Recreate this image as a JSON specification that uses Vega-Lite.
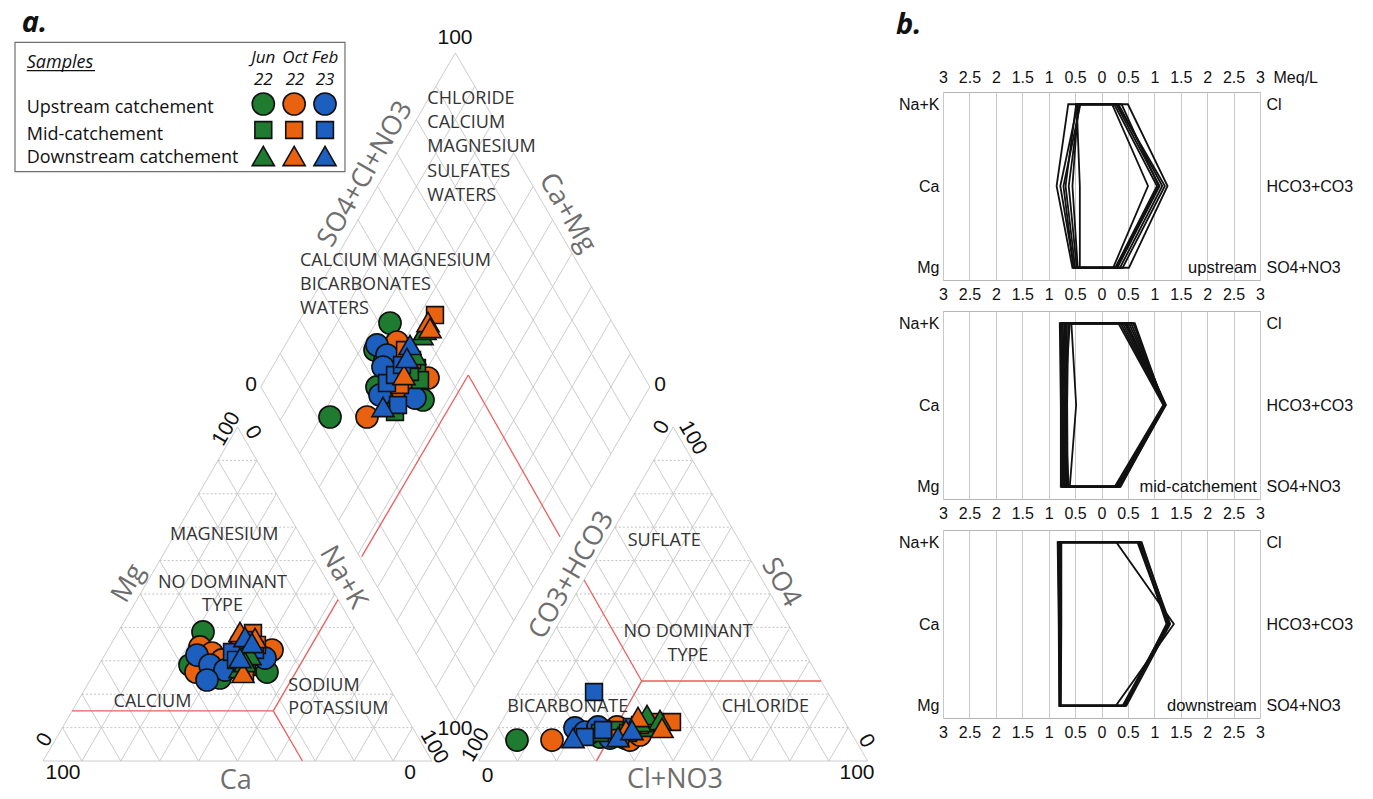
{
 "$schema": "https://vega.github.io/schema/vega-lite/v6.json",
 "padding": 0,
 "background": "white",
 "spacing": 16,
 "config": {
  "view": {"stroke": "#b5b5b5"},
  "axis": {"labelFont": "Liberation Sans", "labelFontSize": 16, "labelColor": "#111111", "ticks": false, "tickSize": 0, "domain": false, "grid": false}
 },
 "datasets": {
  "one": [{}],
  "grid": [
   {"x":0,"y":0,"x2":100,"y2":0},{"x":0,"y":0,"x2":50,"y2":86.603},{"x":100,"y":0,"x2":50,"y2":86.603},
   {"x":10,"y":0,"x2":55,"y2":77.942},{"x":20,"y":0,"x2":60,"y2":69.282},{"x":30,"y":0,"x2":65,"y2":60.622},{"x":40,"y":0,"x2":70,"y2":51.962},{"x":50,"y":0,"x2":75,"y2":43.301},{"x":60,"y":0,"x2":80,"y2":34.641},{"x":70,"y":0,"x2":85,"y2":25.981},{"x":80,"y":0,"x2":90,"y2":17.321},{"x":90,"y":0,"x2":95,"y2":8.66},
   {"x":10,"y":0,"x2":5,"y2":8.66},{"x":20,"y":0,"x2":10,"y2":17.321},{"x":30,"y":0,"x2":15,"y2":25.981},{"x":40,"y":0,"x2":20,"y2":34.641},{"x":50,"y":0,"x2":25,"y2":43.301},{"x":60,"y":0,"x2":30,"y2":51.962},{"x":70,"y":0,"x2":35,"y2":60.622},{"x":80,"y":0,"x2":40,"y2":69.282},{"x":90,"y":0,"x2":45,"y2":77.942},
   {"x":112,"y":0,"x2":212,"y2":0},{"x":112,"y":0,"x2":162,"y2":86.603},{"x":212,"y":0,"x2":162,"y2":86.603},
   {"x":122,"y":0,"x2":167,"y2":77.942},{"x":132,"y":0,"x2":172,"y2":69.282},{"x":142,"y":0,"x2":177,"y2":60.622},{"x":152,"y":0,"x2":182,"y2":51.962},{"x":162,"y":0,"x2":187,"y2":43.301},{"x":172,"y":0,"x2":192,"y2":34.641},{"x":182,"y":0,"x2":197,"y2":25.981},{"x":192,"y":0,"x2":202,"y2":17.321},{"x":202,"y":0,"x2":207,"y2":8.66},
   {"x":122,"y":0,"x2":117,"y2":8.66},{"x":132,"y":0,"x2":122,"y2":17.321},{"x":142,"y":0,"x2":127,"y2":25.981},{"x":152,"y":0,"x2":132,"y2":34.641},{"x":162,"y":0,"x2":137,"y2":43.301},{"x":172,"y":0,"x2":142,"y2":51.962},{"x":182,"y":0,"x2":147,"y2":60.622},{"x":192,"y":0,"x2":152,"y2":69.282},{"x":202,"y":0,"x2":157,"y2":77.942},
   {"x":106,"y":10.392,"x2":56,"y2":96.995},{"x":106,"y":10.392,"x2":156,"y2":96.995},{"x":56,"y":96.995,"x2":106,"y2":183.597},{"x":156,"y":96.995,"x2":106,"y2":183.597},
   {"x":101,"y":19.053,"x2":151,"y2":105.655},{"x":96,"y":27.713,"x2":146,"y2":114.316},{"x":91,"y":36.373,"x2":141,"y2":122.976},{"x":86,"y":45.033,"x2":136,"y2":131.636},{"x":81,"y":53.694,"x2":131,"y2":140.296},{"x":76,"y":62.354,"x2":126,"y2":148.957},{"x":71,"y":71.014,"x2":121,"y2":157.617},{"x":66,"y":79.674,"x2":116,"y2":166.277},{"x":61,"y":88.335,"x2":111,"y2":174.937},
   {"x":111,"y":19.053,"x2":61,"y2":105.655},{"x":116,"y":27.713,"x2":66,"y2":114.316},{"x":121,"y":36.373,"x2":71,"y2":122.976},{"x":126,"y":45.033,"x2":76,"y2":131.636},{"x":131,"y":53.694,"x2":81,"y2":140.296},{"x":136,"y":62.354,"x2":86,"y2":148.957},{"x":141,"y":71.014,"x2":91,"y2":157.617},{"x":146,"y":79.674,"x2":96,"y2":166.277},{"x":151,"y":88.335,"x2":101,"y2":174.937}
  ],
  "gridDotted": [
   {"x":5,"y":8.66,"x2":95,"y2":8.66},{"x":10,"y":17.321,"x2":90,"y2":17.321},{"x":15,"y":25.981,"x2":85,"y2":25.981},{"x":20,"y":34.641,"x2":80,"y2":34.641},{"x":25,"y":43.301,"x2":75,"y2":43.301},{"x":30,"y":51.962,"x2":70,"y2":51.962},{"x":35,"y":60.622,"x2":65,"y2":60.622},{"x":40,"y":69.282,"x2":60,"y2":69.282},{"x":45,"y":77.942,"x2":55,"y2":77.942},
   {"x":117,"y":8.66,"x2":207,"y2":8.66},{"x":122,"y":17.321,"x2":202,"y2":17.321},{"x":127,"y":25.981,"x2":197,"y2":25.981},{"x":132,"y":34.641,"x2":192,"y2":34.641},{"x":137,"y":43.301,"x2":187,"y2":43.301},{"x":142,"y":51.962,"x2":182,"y2":51.962},{"x":147,"y":60.622,"x2":177,"y2":60.622},{"x":152,"y":69.282,"x2":172,"y2":69.282},{"x":157,"y":77.942,"x2":167,"y2":77.942}
  ],
  "facies": [
   {"x":7.48,"y":12.99,"x2":59.2,"y2":12.99},{"x":59.2,"y":12.99,"x2":66.7,"y2":0},{"x":59.2,"y":12.99,"x2":75.85,"y2":41.83},
   {"x":142.3,"y":0,"x2":153.9,"y2":20.74},{"x":153.9,"y":20.74,"x2":200.0,"y2":20.74},{"x":153.9,"y":20.74,"x2":139.1,"y2":46.93},
   {"x":81.93,"y":52.97,"x2":109.33,"y2":100.08},{"x":109.33,"y":100.08,"x2":132.9,"y2":58.15}
  ],
  "samples": [
   {"group":"Upstream catchement","season":"Jun 22","cat_x":41.13,"cat_y":33.45,"an_x":121.85,"an_y":5.44,"dia_x":73.78,"dia_y":89.19},
   {"group":"Upstream catchement","season":"Jun 22","cat_x":37.79,"cat_y":24.89,"an_x":143.19,"an_y":6.22,"dia_x":89.20,"dia_y":113.56},
   {"group":"Upstream catchement","season":"Jun 22","cat_x":45.50,"cat_y":21.52,"an_x":146.27,"an_y":6.74,"dia_x":85.35,"dia_y":106.56},
   {"group":"Upstream catchement","season":"Jun 22","cat_x":57.58,"cat_y":23.07,"an_x":149.61,"an_y":5.96,"dia_x":85.86,"dia_y":96.97},
   {"group":"Upstream catchement","season":"Jun 22","cat_x":40.36,"cat_y":26.19,"an_x":140.62,"an_y":7.26,"dia_x":97.69,"dia_y":93.60},
   {"group":"Upstream catchement","season":"Oct 22","cat_x":40.36,"cat_y":29.56,"an_x":130.85,"an_y":5.44,"dia_x":83.29,"dia_y":89.19},
   {"group":"Upstream catchement","season":"Oct 22","cat_x":43.44,"cat_y":28.00,"an_x":147.56,"an_y":8.82,"dia_x":91.00,"dia_y":108.63},
   {"group":"Upstream catchement","season":"Oct 22","cat_x":58.87,"cat_y":28.78,"an_x":150.90,"an_y":5.44,"dia_x":98.97,"dia_y":99.30},
   {"group":"Upstream catchement","season":"Oct 22","cat_x":46.02,"cat_y":26.19,"an_x":144.47,"an_y":7.78,"dia_x":92.29,"dia_y":96.19},
   {"group":"Upstream catchement","season":"Oct 22","cat_x":39.33,"cat_y":23.07,"an_x":153.47,"an_y":6.74,"dia_x":87.92,"dia_y":103.97},
   {"group":"Upstream catchement","season":"Feb 23","cat_x":39.59,"cat_y":27.48,"an_x":136.76,"an_y":8.56,"dia_x":85.86,"dia_y":107.86},
   {"group":"Upstream catchement","season":"Feb 23","cat_x":42.93,"cat_y":24.89,"an_x":139.33,"an_y":7.52,"dia_x":88.43,"dia_y":105.26},
   {"group":"Upstream catchement","season":"Feb 23","cat_x":46.79,"cat_y":23.59,"an_x":142.67,"an_y":8.82,"dia_x":87.40,"dia_y":102.15},
   {"group":"Upstream catchement","season":"Feb 23","cat_x":42.16,"cat_y":21.00,"an_x":148.84,"an_y":7.26,"dia_x":95.63,"dia_y":94.11},
   {"group":"Upstream catchement","season":"Feb 23","cat_x":57.07,"cat_y":26.70,"an_x":145.76,"an_y":5.96,"dia_x":86.63,"dia_y":94.89},
   {"group":"Mid-catchement","season":"Jun 22","cat_x":51.16,"cat_y":25.67,"an_x":147.04,"an_y":8.04,"dia_x":90.49,"dia_y":90.49},
   {"group":"Mid-catchement","season":"Jun 22","cat_x":50.13,"cat_y":28.78,"an_x":154.76,"an_y":8.56,"dia_x":96.14,"dia_y":101.89},
   {"group":"Mid-catchement","season":"Jun 22","cat_x":53.21,"cat_y":31.37,"an_x":150.39,"an_y":7.26,"dia_x":96.92,"dia_y":98.78},
   {"group":"Mid-catchement","season":"Jun 22","cat_x":52.44,"cat_y":24.37,"an_x":143.19,"an_y":7.26,"dia_x":94.34,"dia_y":100.86},
   {"group":"Mid-catchement","season":"Oct 22","cat_x":53.98,"cat_y":33.19,"an_x":157.33,"an_y":10.11,"dia_x":100.77,"dia_y":115.63},
   {"group":"Mid-catchement","season":"Oct 22","cat_x":50.64,"cat_y":30.08,"an_x":161.70,"an_y":10.11,"dia_x":91.77,"dia_y":97.49},
   {"group":"Mid-catchement","season":"Oct 22","cat_x":55.01,"cat_y":30.08,"an_x":153.47,"an_y":9.33,"dia_x":94.86,"dia_y":103.97},
   {"group":"Mid-catchement","season":"Oct 22","cat_x":51.93,"cat_y":23.07,"an_x":148.33,"an_y":5.96,"dia_x":93.06,"dia_y":106.56},
   {"group":"Mid-catchement","season":"Feb 23","cat_x":48.59,"cat_y":28.26,"an_x":141.65,"an_y":17.89,"dia_x":88.43,"dia_y":98.00},
   {"group":"Mid-catchement","season":"Feb 23","cat_x":52.70,"cat_y":31.37,"an_x":139.33,"an_y":6.22,"dia_x":90.49,"dia_y":100.08},
   {"group":"Mid-catchement","season":"Feb 23","cat_x":54.50,"cat_y":28.78,"an_x":143.96,"an_y":8.04,"dia_x":92.29,"dia_y":102.67},
   {"group":"Mid-catchement","season":"Feb 23","cat_x":49.61,"cat_y":26.19,"an_x":151.41,"an_y":8.82,"dia_x":91.26,"dia_y":92.30},
   {"group":"Downstream catchement","season":"Jun 22","cat_x":50.64,"cat_y":24.11,"an_x":155.27,"an_y":11.93,"dia_x":97.43,"dia_y":110.45},
   {"group":"Downstream catchement","season":"Jun 22","cat_x":53.21,"cat_y":27.48,"an_x":158.61,"an_y":10.63,"dia_x":95.63,"dia_y":105.26},
   {"group":"Downstream catchement","season":"Jun 22","cat_x":51.93,"cat_y":25.67,"an_x":153.47,"an_y":10.11,"dia_x":98.20,"dia_y":111.75},
   {"group":"Downstream catchement","season":"Oct 22","cat_x":50.64,"cat_y":33.45,"an_x":152.96,"an_y":11.41,"dia_x":98.97,"dia_y":113.82},
   {"group":"Downstream catchement","season":"Oct 22","cat_x":54.50,"cat_y":31.89,"an_x":159.13,"an_y":8.56,"dia_x":99.49,"dia_y":112.26},
   {"group":"Downstream catchement","season":"Oct 22","cat_x":51.41,"cat_y":22.82,"an_x":149.87,"an_y":8.04,"dia_x":92.80,"dia_y":100.08},
   {"group":"Downstream catchement","season":"Feb 23","cat_x":51.93,"cat_y":32.15,"an_x":136.25,"an_y":5.96,"dia_x":94.34,"dia_y":107.86},
   {"group":"Downstream catchement","season":"Feb 23","cat_x":53.73,"cat_y":30.59,"an_x":147.81,"an_y":6.22,"dia_x":93.57,"dia_y":104.49},
   {"group":"Downstream catchement","season":"Feb 23","cat_x":50.64,"cat_y":26.70,"an_x":151.41,"an_y":8.04,"dia_x":87.40,"dia_y":91.78}
  ],
  "legendKeys": [
   {"group":"Upstream catchement","season":"Jun 22"},{"group":"Upstream catchement","season":"Oct 22"},{"group":"Upstream catchement","season":"Feb 23"},
   {"group":"Mid-catchement","season":"Jun 22"},{"group":"Mid-catchement","season":"Oct 22"},{"group":"Mid-catchement","season":"Feb 23"},
   {"group":"Downstream catchement","season":"Jun 22"},{"group":"Downstream catchement","season":"Oct 22"},{"group":"Downstream catchement","season":"Feb 23"}
  ],
  "stiff": [
   {"panel":"upstream","sample":"U1","Na+K":-0.63,"Ca":-0.85,"Mg":-0.55,"SO4+NO3":0.52,"HCO3+CO3":1.25,"Cl":0.50},
   {"panel":"upstream","sample":"U2","Na+K":-0.45,"Ca":-0.78,"Mg":-0.52,"SO4+NO3":0.30,"HCO3+CO3":1.10,"Cl":0.28},
   {"panel":"upstream","sample":"U3","Na+K":-0.48,"Ca":-0.68,"Mg":-0.50,"SO4+NO3":0.26,"HCO3+CO3":1.05,"Cl":0.24},
   {"panel":"upstream","sample":"U4","Na+K":-0.42,"Ca":-0.62,"Mg":-0.47,"SO4+NO3":0.22,"HCO3+CO3":0.88,"Cl":0.20},
   {"panel":"upstream","sample":"U5","Na+K":-0.44,"Ca":-0.55,"Mg":-0.45,"SO4+NO3":0.35,"HCO3+CO3":1.15,"Cl":0.32},
   {"panel":"upstream","sample":"U6","Na+K":-0.47,"Ca":-0.41,"Mg":-0.41,"SO4+NO3":0.28,"HCO3+CO3":1.08,"Cl":0.38},
   {"panel":"upstream","sample":"U7","Na+K":-0.40,"Ca":-0.72,"Mg":-0.53,"SO4+NO3":0.40,"HCO3+CO3":1.20,"Cl":0.30},
   {"panel":"mid","sample":"M1","Na+K":-0.79,"Ca":-0.77,"Mg":-0.77,"SO4+NO3":0.25,"HCO3+CO3":1.17,"Cl":0.32},
   {"panel":"mid","sample":"M2","Na+K":-0.77,"Ca":-0.75,"Mg":-0.75,"SO4+NO3":0.27,"HCO3+CO3":1.18,"Cl":0.36},
   {"panel":"mid","sample":"M3","Na+K":-0.75,"Ca":-0.73,"Mg":-0.73,"SO4+NO3":0.29,"HCO3+CO3":1.19,"Cl":0.40},
   {"panel":"mid","sample":"M4","Na+K":-0.73,"Ca":-0.71,"Mg":-0.72,"SO4+NO3":0.31,"HCO3+CO3":1.20,"Cl":0.44},
   {"panel":"mid","sample":"M5","Na+K":-0.70,"Ca":-0.69,"Mg":-0.70,"SO4+NO3":0.33,"HCO3+CO3":1.21,"Cl":0.48},
   {"panel":"mid","sample":"M6","Na+K":-0.68,"Ca":-0.67,"Mg":-0.68,"SO4+NO3":0.35,"HCO3+CO3":1.22,"Cl":0.52},
   {"panel":"mid","sample":"M7","Na+K":-0.66,"Ca":-0.66,"Mg":-0.66,"SO4+NO3":0.36,"HCO3+CO3":1.20,"Cl":0.56},
   {"panel":"mid","sample":"M8","Na+K":-0.63,"Ca":-0.65,"Mg":-0.64,"SO4+NO3":0.30,"HCO3+CO3":1.19,"Cl":0.60},
   {"panel":"mid","sample":"M9","Na+K":-0.60,"Ca":-0.70,"Mg":-0.62,"SO4+NO3":0.28,"HCO3+CO3":1.18,"Cl":0.63},
   {"panel":"mid","sample":"M10","Na+K":-0.57,"Ca":-0.48,"Mg":-0.60,"SO4+NO3":0.32,"HCO3+CO3":1.21,"Cl":0.45},
   {"panel":"downstream","sample":"D1","Na+K":-0.83,"Ca":-0.81,"Mg":-0.80,"SO4+NO3":0.27,"HCO3+CO3":1.37,"Cl":0.28},
   {"panel":"downstream","sample":"D2","Na+K":-0.82,"Ca":-0.80,"Mg":-0.79,"SO4+NO3":0.40,"HCO3+CO3":1.25,"Cl":0.68},
   {"panel":"downstream","sample":"D3","Na+K":-0.80,"Ca":-0.79,"Mg":-0.79,"SO4+NO3":0.43,"HCO3+CO3":1.27,"Cl":0.70},
   {"panel":"downstream","sample":"D4","Na+K":-0.79,"Ca":-0.78,"Mg":-0.78,"SO4+NO3":0.45,"HCO3+CO3":1.23,"Cl":0.72},
   {"panel":"downstream","sample":"D5","Na+K":-0.78,"Ca":-0.77,"Mg":-0.78,"SO4+NO3":0.47,"HCO3+CO3":1.30,"Cl":0.74},
   {"panel":"downstream","sample":"D6","Na+K":-0.76,"Ca":-0.76,"Mg":-0.77,"SO4+NO3":0.42,"HCO3+CO3":1.28,"Cl":0.76}
  ],
  "ions": [
   {"ion":"Na+K","level":"top","seq":1},{"ion":"Ca","level":"mid","seq":2},{"ion":"Mg","level":"bottom","seq":3},
   {"ion":"SO4+NO3","level":"bottom","seq":4},{"ion":"HCO3+CO3","level":"mid","seq":5},{"ion":"Cl","level":"top","seq":6}
  ]
 },
 "hconcat": [
  {
   "width": 880,
   "height": 799,
   "view": {"stroke": null},
   "layer": [
    {
     "layer": [
      {"data": {"name": "grid"}, "mark": {"type": "rule", "color": "#c6c6c6", "strokeWidth": 0.9},
       "encoding": {"x": {"field": "x", "type": "quantitative", "scale": {"domain": [-11.054, 215.167], "nice": false, "zero": false}, "axis": null}, "y": {"field": "y", "type": "quantitative", "scale": {"domain": [-9.852, 197.304], "nice": false, "zero": false}, "axis": null}, "x2": {"field": "x2"}, "y2": {"field": "y2"}}},
      {"data": {"name": "gridDotted"}, "mark": {"type": "rule", "color": "#bcbcbc", "strokeWidth": 0.9, "strokeDash": [2, 2]},
       "encoding": {"x": {"field": "x", "type": "quantitative", "axis": null}, "y": {"field": "y", "type": "quantitative", "axis": null}, "x2": {"field": "x2"}, "y2": {"field": "y2"}}},
      {"data": {"name": "facies"}, "mark": {"type": "rule", "color": "#ef5b5b", "strokeWidth": 1.3},
       "encoding": {"x": {"field": "x", "type": "quantitative", "axis": null}, "y": {"field": "y", "type": "quantitative", "axis": null}, "x2": {"field": "x2"}, "y2": {"field": "y2"}}},

      {"data": {"name": "one"}, "mark": {"type": "rect", "fill": "white", "stroke": "#6e6e6e", "strokeWidth": 1.2}, "encoding": {"x": {"datum": -7.2, "type": "quantitative", "axis": null}, "x2": {"datum": 77.63}, "y": {"datum": 186.34, "type": "quantitative", "axis": null}, "y2": {"datum": 152.79}}},
      {"data": {"name": "one"}, "mark": {"type": "text", "text": "a.", "font": "Open Sans", "fontSize": 29, "fontWeight": "bold", "fontStyle": "italic", "align": "left", "baseline": "alphabetic", "color": "#111111"}, "encoding": {"x": {"datum": -5.48, "type": "quantitative", "axis": null}, "y": {"datum": 189.09, "type": "quantitative", "axis": null}}},
      {"data": {"name": "one"}, "mark": {"type": "text", "text": "Samples", "font": "Open Sans", "fontSize": 18, "fontStyle": "italic", "align": "left", "baseline": "alphabetic", "color": "#111111"}, "encoding": {"x": {"datum": -4.19, "type": "quantitative", "axis": null}, "y": {"datum": 179.6, "type": "quantitative", "axis": null}}},
      {"data": {"name": "one"}, "mark": {"type": "rule", "color": "#111111", "strokeWidth": 1.2}, "encoding": {"x": {"datum": -4.19, "type": "quantitative", "axis": null}, "x2": {"datum": 13.37}, "y": {"datum": 179.0, "type": "quantitative", "axis": null}}},
      {"data": {"name": "one"}, "mark": {"type": "text", "text": ["Jun", "22"], "lineHeight": 21.7, "font": "Open Sans", "fontSize": 17, "fontStyle": "italic", "align": "center", "baseline": "alphabetic", "color": "#111111"}, "encoding": {"x": {"datum": 56.63, "type": "quantitative", "axis": null}, "y": {"datum": 180.9, "type": "quantitative", "axis": null}}},
      {"data": {"name": "one"}, "mark": {"type": "text", "text": ["Oct", "22"], "lineHeight": 21.7, "font": "Open Sans", "fontSize": 17, "fontStyle": "italic", "align": "center", "baseline": "alphabetic", "color": "#111111"}, "encoding": {"x": {"datum": 64.78, "type": "quantitative", "axis": null}, "y": {"datum": 180.9, "type": "quantitative", "axis": null}}},
      {"data": {"name": "one"}, "mark": {"type": "text", "text": ["Feb", "23"], "lineHeight": 21.7, "font": "Open Sans", "fontSize": 17, "fontStyle": "italic", "align": "center", "baseline": "alphabetic", "color": "#111111"}, "encoding": {"x": {"datum": 72.49, "type": "quantitative", "axis": null}, "y": {"datum": 180.9, "type": "quantitative", "axis": null}}},
      {"data": {"name": "one"}, "mark": {"type": "text", "text": "Upstream catchement", "font": "Open Sans", "fontSize": 18, "align": "left", "baseline": "alphabetic", "color": "#111111"}, "encoding": {"x": {"datum": -4.19, "type": "quantitative", "axis": null}, "y": {"datum": 167.93, "type": "quantitative", "axis": null}}},
      {"data": {"name": "one"}, "mark": {"type": "text", "text": "Mid-catchement", "font": "Open Sans", "fontSize": 18, "align": "left", "baseline": "alphabetic", "color": "#111111"}, "encoding": {"x": {"datum": -4.19, "type": "quantitative", "axis": null}, "y": {"datum": 161.01, "type": "quantitative", "axis": null}}},
      {"data": {"name": "one"}, "mark": {"type": "text", "text": "Downstream catchement", "font": "Open Sans", "fontSize": 18, "align": "left", "baseline": "alphabetic", "color": "#111111"}, "encoding": {"x": {"datum": -4.19, "type": "quantitative", "axis": null}, "y": {"datum": 155.12, "type": "quantitative", "axis": null}}},

      {"data": {"name": "one"}, "mark": {"type": "text", "text": "100", "font": "Liberation Sans", "fontSize": 21, "color": "#111111", "align": "center", "baseline": "middle"}, "encoding": {"x": {"datum": 105.91, "type": "quantitative", "axis": null}, "y": {"datum": 187.45, "type": "quantitative", "axis": null}}},
      {"data": {"name": "one"}, "mark": {"type": "text", "text": "0", "font": "Liberation Sans", "fontSize": 21, "color": "#111111", "align": "center", "baseline": "middle"}, "encoding": {"x": {"datum": 53.47, "type": "quantitative", "axis": null}, "y": {"datum": 97.49, "type": "quantitative", "axis": null}}},
      {"data": {"name": "one"}, "mark": {"type": "text", "text": "0", "font": "Liberation Sans", "fontSize": 21, "color": "#111111", "align": "center", "baseline": "middle"}, "encoding": {"x": {"datum": 158.61, "type": "quantitative", "axis": null}, "y": {"datum": 97.49, "type": "quantitative", "axis": null}}},
      {"data": {"name": "one"}, "mark": {"type": "text", "text": "100", "font": "Liberation Sans", "fontSize": 21, "color": "#111111", "align": "center", "baseline": "middle"}, "encoding": {"x": {"datum": 5.14, "type": "quantitative", "axis": null}, "y": {"datum": -3.11, "type": "quantitative", "axis": null}}},
      {"data": {"name": "one"}, "mark": {"type": "text", "text": "0", "font": "Liberation Sans", "fontSize": 21, "color": "#111111", "align": "center", "baseline": "middle"}, "encoding": {"x": {"datum": 94.34, "type": "quantitative", "axis": null}, "y": {"datum": -3.11, "type": "quantitative", "axis": null}}},
      {"data": {"name": "one"}, "mark": {"type": "text", "text": "0", "font": "Liberation Sans", "fontSize": 21, "color": "#111111", "align": "center", "baseline": "middle"}, "encoding": {"x": {"datum": 114.27, "type": "quantitative", "axis": null}, "y": {"datum": -3.89, "type": "quantitative", "axis": null}}},
      {"data": {"name": "one"}, "mark": {"type": "text", "text": "100", "font": "Liberation Sans", "fontSize": 21, "color": "#111111", "align": "center", "baseline": "middle"}, "encoding": {"x": {"datum": 209.25, "type": "quantitative", "axis": null}, "y": {"datum": -3.11, "type": "quantitative", "axis": null}}},
      {"data": {"name": "one"}, "mark": {"type": "text", "text": "100", "font": "Liberation Sans", "fontSize": 21, "color": "#111111", "align": "center", "baseline": "middle"}, "encoding": {"x": {"datum": 105.91, "type": "quantitative", "axis": null}, "y": {"datum": 8.3, "type": "quantitative", "axis": null}}},
      {"data": {"name": "one"}, "mark": {"type": "text", "text": "100", "font": "Liberation Sans", "fontSize": 21, "color": "#111111", "align": "center", "baseline": "middle", "angle": -60}, "encoding": {"x": {"datum": 47.22, "type": "quantitative", "axis": null}, "y": {"datum": 86.08, "type": "quantitative", "axis": null}}},
      {"data": {"name": "one"}, "mark": {"type": "text", "text": "0", "font": "Liberation Sans", "fontSize": 21, "color": "#111111", "align": "center", "baseline": "middle", "angle": -60}, "encoding": {"x": {"datum": 0.51, "type": "quantitative", "axis": null}, "y": {"datum": 5.44, "type": "quantitative", "axis": null}}},
      {"data": {"name": "one"}, "mark": {"type": "text", "text": "0", "font": "Liberation Sans", "fontSize": 21, "color": "#111111", "align": "center", "baseline": "middle", "angle": -60}, "encoding": {"x": {"datum": 159.12, "type": "quantitative", "axis": null}, "y": {"datum": 86.47, "type": "quantitative", "axis": null}}},
      {"data": {"name": "one"}, "mark": {"type": "text", "text": "100", "font": "Liberation Sans", "fontSize": 21, "color": "#111111", "align": "center", "baseline": "middle", "angle": -60}, "encoding": {"x": {"datum": 111.31, "type": "quantitative", "axis": null}, "y": {"datum": 4.15, "type": "quantitative", "axis": null}}},
      {"data": {"name": "one"}, "mark": {"type": "text", "text": "0", "font": "Liberation Sans", "fontSize": 21, "color": "#111111", "align": "center", "baseline": "middle", "angle": 60}, "encoding": {"x": {"datum": 53.86, "type": "quantitative", "axis": null}, "y": {"datum": 85.17, "type": "quantitative", "axis": null}}},
      {"data": {"name": "one"}, "mark": {"type": "text", "text": "100", "font": "Liberation Sans", "fontSize": 21, "color": "#111111", "align": "center", "baseline": "middle", "angle": 60}, "encoding": {"x": {"datum": 100.51, "type": "quantitative", "axis": null}, "y": {"datum": 3.63, "type": "quantitative", "axis": null}}},
      {"data": {"name": "one"}, "mark": {"type": "text", "text": "100", "font": "Liberation Sans", "fontSize": 21, "color": "#111111", "align": "center", "baseline": "middle", "angle": 60}, "encoding": {"x": {"datum": 166.97, "type": "quantitative", "axis": null}, "y": {"datum": 83.74, "type": "quantitative", "axis": null}}},
      {"data": {"name": "one"}, "mark": {"type": "text", "text": "0", "font": "Liberation Sans", "fontSize": 21, "color": "#111111", "align": "center", "baseline": "middle", "angle": 60}, "encoding": {"x": {"datum": 211.57, "type": "quantitative", "axis": null}, "y": {"datum": 5.19, "type": "quantitative", "axis": null}}},

      {"data": {"name": "one"}, "mark": {"type": "text", "text": "Ca", "font": "Open Sans", "fontSize": 27, "color": "#6e6e6e", "align": "center", "baseline": "middle"}, "encoding": {"x": {"datum": 49.56, "type": "quantitative", "axis": null}, "y": {"datum": -5.19, "type": "quantitative", "axis": null}}},
      {"data": {"name": "one"}, "mark": {"type": "text", "text": "Cl+NO3", "font": "Open Sans", "fontSize": 27, "color": "#6e6e6e", "align": "center", "baseline": "middle"}, "encoding": {"x": {"datum": 162.47, "type": "quantitative", "axis": null}, "y": {"datum": -4.93, "type": "quantitative", "axis": null}}},
      {"data": {"name": "one"}, "mark": {"type": "text", "text": "Mg", "font": "Open Sans", "fontSize": 27, "color": "#6e6e6e", "align": "center", "baseline": "middle", "angle": -60}, "encoding": {"x": {"datum": 21.98, "type": "quantitative", "axis": null}, "y": {"datum": 46.02, "type": "quantitative", "axis": null}}},
      {"data": {"name": "one"}, "mark": {"type": "text", "text": "SO4+Cl+NO3", "font": "Open Sans", "fontSize": 27, "color": "#6e6e6e", "align": "center", "baseline": "middle", "angle": -60}, "encoding": {"x": {"datum": 82.9, "type": "quantitative", "axis": null}, "y": {"datum": 152.2, "type": "quantitative", "axis": null}}},
      {"data": {"name": "one"}, "mark": {"type": "text", "text": "CO3+HCO3", "font": "Open Sans", "fontSize": 27, "color": "#6e6e6e", "align": "center", "baseline": "middle", "angle": -60}, "encoding": {"x": {"datum": 135.9, "type": "quantitative", "axis": null}, "y": {"datum": 48.2, "type": "quantitative", "axis": null}}},
      {"data": {"name": "one"}, "mark": {"type": "text", "text": "Na+K", "font": "Open Sans", "fontSize": 27, "color": "#6e6e6e", "align": "center", "baseline": "middle", "angle": 60}, "encoding": {"x": {"datum": 77.12, "type": "quantitative", "axis": null}, "y": {"datum": 47.58, "type": "quantitative", "axis": null}}},
      {"data": {"name": "one"}, "mark": {"type": "text", "text": "Ca+Mg", "font": "Open Sans", "fontSize": 27, "color": "#6e6e6e", "align": "center", "baseline": "middle", "angle": 60}, "encoding": {"x": {"datum": 134.8, "type": "quantitative", "axis": null}, "y": {"datum": 142.1, "type": "quantitative", "axis": null}}},
      {"data": {"name": "one"}, "mark": {"type": "text", "text": "SO4", "font": "Open Sans", "fontSize": 27, "color": "#6e6e6e", "align": "center", "baseline": "middle", "angle": 60}, "encoding": {"x": {"datum": 189.7, "type": "quantitative", "axis": null}, "y": {"datum": 46.3, "type": "quantitative", "axis": null}}},

      {"data": {"name": "one"}, "mark": {"type": "text", "text": ["CHLORIDE", "CALCIUM", "MAGNESIUM", "SULFATES", "WATERS"], "lineHeight": 24.25, "font": "Open Sans", "fontSize": 18, "color": "#333333", "align": "left", "baseline": "middle"}, "encoding": {"x": {"datum": 98.8, "type": "quantitative", "axis": null}, "y": {"datum": 171.64, "type": "quantitative", "axis": null}}},
      {"data": {"name": "one"}, "mark": {"type": "text", "text": ["CALCIUM MAGNESIUM", "BICARBONATES", "WATERS"], "lineHeight": 24.3, "font": "Open Sans", "fontSize": 18, "color": "#333333", "align": "left", "baseline": "middle"}, "encoding": {"x": {"datum": 66.07, "type": "quantitative", "axis": null}, "y": {"datum": 129.71, "type": "quantitative", "axis": null}}},
      {"data": {"name": "one"}, "mark": {"type": "text", "text": ["SODIUM", "POTASSIUM"], "lineHeight": 23.4, "font": "Open Sans", "fontSize": 18, "color": "#333333", "align": "left", "baseline": "middle"}, "encoding": {"x": {"datum": 63.06, "type": "quantitative", "axis": null}, "y": {"datum": 19.5, "type": "quantitative", "axis": null}}},
      {"data": {"name": "one"}, "mark": {"type": "text", "text": "MAGNESIUM", "font": "Open Sans", "fontSize": 18, "color": "#333333", "align": "center", "baseline": "middle"}, "encoding": {"x": {"datum": 46.58, "type": "quantitative", "axis": null}, "y": {"datum": 58.47, "type": "quantitative", "axis": null}}},
      {"data": {"name": "one"}, "mark": {"type": "text", "text": ["NO DOMINANT", "TYPE"], "lineHeight": 23.3, "font": "Open Sans", "fontSize": 18, "color": "#333333", "align": "center", "baseline": "middle"}, "encoding": {"x": {"datum": 46.14, "type": "quantitative", "axis": null}, "y": {"datum": 46.23, "type": "quantitative", "axis": null}}},
      {"data": {"name": "one"}, "mark": {"type": "text", "text": "CALCIUM", "font": "Open Sans", "fontSize": 18, "color": "#333333", "align": "center", "baseline": "middle"}, "encoding": {"x": {"datum": 28.15, "type": "quantitative", "axis": null}, "y": {"datum": 15.17, "type": "quantitative", "axis": null}}},
      {"data": {"name": "one"}, "mark": {"type": "text", "text": "SUFLATE", "font": "Open Sans", "fontSize": 18, "color": "#333333", "align": "center", "baseline": "middle"}, "encoding": {"x": {"datum": 159.7, "type": "quantitative", "axis": null}, "y": {"datum": 57.09, "type": "quantitative", "axis": null}}},
      {"data": {"name": "one"}, "mark": {"type": "text", "text": ["NO DOMINANT", "TYPE"], "lineHeight": 23.2, "font": "Open Sans", "fontSize": 18, "color": "#333333", "align": "center", "baseline": "middle"}, "encoding": {"x": {"datum": 165.8, "type": "quantitative", "axis": null}, "y": {"datum": 33.32, "type": "quantitative", "axis": null}}},
      {"data": {"name": "one"}, "mark": {"type": "text", "text": "BICARBONATE", "font": "Open Sans", "fontSize": 18, "color": "#333333", "align": "center", "baseline": "middle"}, "encoding": {"x": {"datum": 134.9, "type": "quantitative", "axis": null}, "y": {"datum": 14.08, "type": "quantitative", "axis": null}}},
      {"data": {"name": "one"}, "mark": {"type": "text", "text": "CHLORIDE", "font": "Open Sans", "fontSize": 18, "color": "#333333", "align": "center", "baseline": "middle"}, "encoding": {"x": {"datum": 185.7, "type": "quantitative", "axis": null}, "y": {"datum": 14.13, "type": "quantitative", "axis": null}}},

      {"data": {"name": "samples"}, "mark": {"type": "point", "filled": true, "opacity": 1, "stroke": "#111111", "strokeWidth": 1.6, "size": 490},
       "encoding": {
        "x": {"field": "cat_x", "type": "quantitative", "axis": null}, "y": {"field": "cat_y", "type": "quantitative", "axis": null},
        "shape": {"field": "group", "type": "nominal", "scale": {"domain": ["Upstream catchement", "Mid-catchement", "Downstream catchement"], "range": ["circle", "M-0.76,-0.76H0.76V0.76H-0.76Z", "triangle-up"]}, "legend": null},
        "color": {"field": "season", "type": "nominal", "scale": {"domain": ["Jun 22", "Oct 22", "Feb 23"], "range": ["#1e7b30", "#e8620f", "#1c5fbf"]}, "legend": null}
       }},
      {"data": {"name": "samples"}, "mark": {"type": "point", "filled": true, "opacity": 1, "stroke": "#111111", "strokeWidth": 1.6, "size": 490},
       "encoding": {
        "x": {"field": "an_x", "type": "quantitative", "axis": null}, "y": {"field": "an_y", "type": "quantitative", "axis": null},
        "shape": {"field": "group", "type": "nominal", "legend": null},
        "color": {"field": "season", "type": "nominal", "legend": null}
       }},
      {"data": {"name": "samples"}, "mark": {"type": "point", "filled": true, "opacity": 1, "stroke": "#111111", "strokeWidth": 1.6, "size": 490},
       "encoding": {
        "x": {"field": "dia_x", "type": "quantitative", "axis": null}, "y": {"field": "dia_y", "type": "quantitative", "axis": null},
        "shape": {"field": "group", "type": "nominal", "legend": null},
        "color": {"field": "season", "type": "nominal", "legend": null}
       }}
     ]
    },
    {
     "data": {"name": "legendKeys"},
     "mark": {"type": "point", "filled": true, "opacity": 1, "stroke": "#111111", "strokeWidth": 1.6, "size": 490},
     "encoding": {
      "x": {"field": "season", "type": "nominal", "scale": {"type": "point", "domain": ["Jun 22", "Oct 22", "Feb 23"], "range": [263.3, 325], "padding": 0}, "axis": null},
      "y": {"field": "group", "type": "nominal", "scale": {"type": "point", "domain": ["Upstream catchement", "Mid-catchement", "Downstream catchement"], "range": [104, 156], "padding": 0}, "axis": null},
      "shape": {"field": "group", "type": "nominal", "legend": null},
      "color": {"field": "season", "type": "nominal", "legend": null}
     }
    }
   ],
   "resolve": {"scale": {"x": "independent", "y": "independent"}}
  },
  {
   "spacing": 7,
   "resolve": {"scale": {"x": "independent", "y": "independent"}},
   "vconcat": [
    {
     "width": 317, "height": 61,
     "view": {"stroke": null},
     "data": {"name": "one"},
     "mark": {"type": "text", "text": "b.", "font": "Open Sans", "fontSize": 29, "fontWeight": "bold", "fontStyle": "italic", "align": "left", "baseline": "alphabetic", "color": "#111111"},
     "encoding": {
      "x": {"datum": -0.148, "type": "quantitative", "scale": {"domain": [0, 1], "nice": false, "zero": false}, "axis": null},
      "y": {"datum": 0.44, "type": "quantitative", "scale": {"domain": [0, 1], "nice": false}, "axis": null}
     }
    },
    {
     "width": 317, "height": 188,
     "layer": [
      {
       "data": {"name": "stiff"},
       "transform": [
        {"filter": "datum.panel == 'upstream'"},
        {"fold": ["Na+K", "Ca", "Mg", "SO4+NO3", "HCO3+CO3", "Cl"], "as": ["ion", "meq"]},
        {"lookup": "ion", "from": {"data": {"name": "ions"}, "key": "ion", "fields": ["level", "seq"]}}
       ],
       "mark": {"type": "line", "interpolate": "linear-closed", "color": "#111111", "strokeWidth": 1.8},
       "encoding": {
        "x": {"field": "meq", "type": "quantitative", "scale": {"domain": [-3, 3], "nice": false, "zero": false}, "axis": {"orient": "bottom", "values": [-3, -2.5, -2, -1.5, -1, -0.5, 0, 0.5, 1, 1.5, 2, 2.5, 3], "labelExpr": "'' + abs(datum.value)", "grid": true, "gridColor": "#c8c8c8", "gridWidth": 1, "labelPadding": 6, "labelFlush": false, "labelOverlap": false, "title": null}},
        "y": {"field": "level", "type": "nominal", "scale": {"type": "point", "domain": ["top", "mid", "bottom"], "padding": 0.15}, "axis": {"orient": "left", "labelExpr": "datum.value == 'top' ? 'Na+K' : datum.value == 'mid' ? 'Ca' : 'Mg'", "labelPadding": 4, "title": null}},
        "detail": {"field": "sample", "type": "nominal"},
        "order": {"field": "seq", "type": "quantitative"}
       }
      },
      {
       "data": {"name": "one"},
       "mark": {"type": "text", "text": "upstream", "font": "Liberation Sans", "fontSize": 16.5, "align": "right", "baseline": "middle", "color": "#111111"},
       "encoding": {
        "x": {"datum": 2.94, "type": "quantitative", "scale": {"domain": [-3, 3], "nice": false, "zero": false}, "axis": {"orient": "top", "values": [-3, -2.5, -2, -1.5, -1, -0.5, 0, 0.5, 1, 1.5, 2, 2.5, 3], "labelExpr": "'' + abs(datum.value)", "grid": false, "labelPadding": 7, "labelFlush": false, "labelOverlap": false, "title": "Meq/L", "titleX": 330, "titleY": -7, "titleAlign": "left", "titleBaseline": "bottom", "titleAngle": 0, "titleFont": "Liberation Sans", "titleFontSize": 16, "titleFontWeight": "normal", "titleColor": "#111111"}},
        "y": {"datum": "bottom", "type": "nominal", "scale": {"type": "point", "domain": ["top", "mid", "bottom"], "padding": 0.15}, "axis": {"orient": "right", "labelExpr": "datum.value == 'top' ? 'Cl' : datum.value == 'mid' ? 'HCO3+CO3' : 'SO4+NO3'", "labelPadding": 6, "title": null}}
       }
      }
     ],
     "resolve": {"scale": {"x": "independent", "y": "independent"}}
    },
    {
     "width": 317, "height": 188,
     "layer": [
      {
       "data": {"name": "stiff"},
       "transform": [
        {"filter": "datum.panel == 'mid'"},
        {"fold": ["Na+K", "Ca", "Mg", "SO4+NO3", "HCO3+CO3", "Cl"], "as": ["ion", "meq"]},
        {"lookup": "ion", "from": {"data": {"name": "ions"}, "key": "ion", "fields": ["level", "seq"]}}
       ],
       "mark": {"type": "line", "interpolate": "linear-closed", "color": "#111111", "strokeWidth": 1.8},
       "encoding": {
        "x": {"field": "meq", "type": "quantitative", "scale": {"domain": [-3, 3], "nice": false, "zero": false}, "axis": {"orient": "bottom", "values": [-3, -2.5, -2, -1.5, -1, -0.5, 0, 0.5, 1, 1.5, 2, 2.5, 3], "labelExpr": "'' + abs(datum.value)", "grid": true, "gridColor": "#c8c8c8", "gridWidth": 1, "labelPadding": 6, "labelFlush": false, "labelOverlap": false, "title": null}},
        "y": {"field": "level", "type": "nominal", "scale": {"type": "point", "domain": ["top", "mid", "bottom"], "padding": 0.15}, "axis": {"orient": "left", "labelExpr": "datum.value == 'top' ? 'Na+K' : datum.value == 'mid' ? 'Ca' : 'Mg'", "labelPadding": 4, "title": null}},
        "detail": {"field": "sample", "type": "nominal"},
        "order": {"field": "seq", "type": "quantitative"}
       }
      },
      {
       "data": {"name": "one"},
       "mark": {"type": "text", "text": "mid-catchement", "font": "Liberation Sans", "fontSize": 16.5, "align": "right", "baseline": "middle", "color": "#111111"},
       "encoding": {
        "x": {"datum": 2.94, "type": "quantitative", "scale": {"domain": [-3, 3], "nice": false, "zero": false}, "axis": null},
        "y": {"datum": "bottom", "type": "nominal", "scale": {"type": "point", "domain": ["top", "mid", "bottom"], "padding": 0.15}, "axis": {"orient": "right", "labelExpr": "datum.value == 'top' ? 'Cl' : datum.value == 'mid' ? 'HCO3+CO3' : 'SO4+NO3'", "labelPadding": 6, "title": null}}
       }
      }
     ],
     "resolve": {"scale": {"x": "independent", "y": "independent"}}
    },
    {
     "width": 317, "height": 188,
     "layer": [
      {
       "data": {"name": "stiff"},
       "transform": [
        {"filter": "datum.panel == 'downstream'"},
        {"fold": ["Na+K", "Ca", "Mg", "SO4+NO3", "HCO3+CO3", "Cl"], "as": ["ion", "meq"]},
        {"lookup": "ion", "from": {"data": {"name": "ions"}, "key": "ion", "fields": ["level", "seq"]}}
       ],
       "mark": {"type": "line", "interpolate": "linear-closed", "color": "#111111", "strokeWidth": 1.8},
       "encoding": {
        "x": {"field": "meq", "type": "quantitative", "scale": {"domain": [-3, 3], "nice": false, "zero": false}, "axis": {"orient": "bottom", "values": [-3, -2.5, -2, -1.5, -1, -0.5, 0, 0.5, 1, 1.5, 2, 2.5, 3], "labelExpr": "'' + abs(datum.value)", "grid": true, "gridColor": "#c8c8c8", "gridWidth": 1, "labelPadding": 6, "labelFlush": false, "labelOverlap": false, "title": null}},
        "y": {"field": "level", "type": "nominal", "scale": {"type": "point", "domain": ["top", "mid", "bottom"], "padding": 0.15}, "axis": {"orient": "left", "labelExpr": "datum.value == 'top' ? 'Na+K' : datum.value == 'mid' ? 'Ca' : 'Mg'", "labelPadding": 4, "title": null}},
        "detail": {"field": "sample", "type": "nominal"},
        "order": {"field": "seq", "type": "quantitative"}
       }
      },
      {
       "data": {"name": "one"},
       "mark": {"type": "text", "text": "downstream", "font": "Liberation Sans", "fontSize": 16.5, "align": "right", "baseline": "middle", "color": "#111111"},
       "encoding": {
        "x": {"datum": 2.94, "type": "quantitative", "scale": {"domain": [-3, 3], "nice": false, "zero": false}, "axis": null},
        "y": {"datum": "bottom", "type": "nominal", "scale": {"type": "point", "domain": ["top", "mid", "bottom"], "padding": 0.15}, "axis": {"orient": "right", "labelExpr": "datum.value == 'top' ? 'Cl' : datum.value == 'mid' ? 'HCO3+CO3' : 'SO4+NO3'", "labelPadding": 6, "title": null}}
       }
      }
     ],
     "resolve": {"scale": {"x": "independent", "y": "independent"}}
    }
   ]
  }
 ],
 "resolve": {"scale": {"x": "independent", "y": "independent"}}
}
